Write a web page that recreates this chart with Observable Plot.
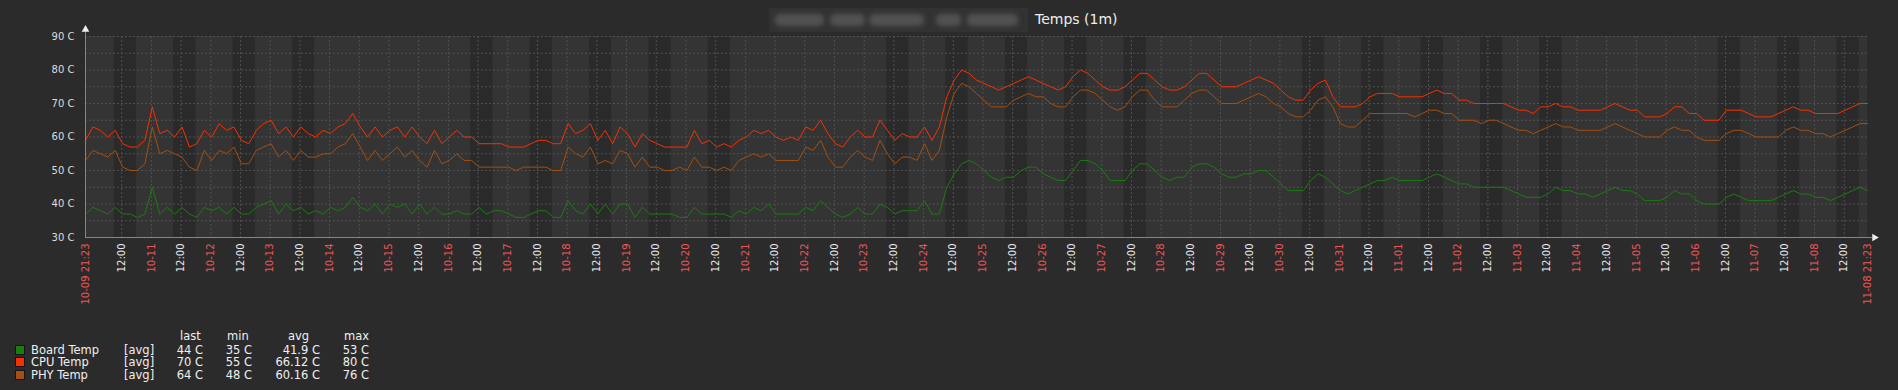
<!DOCTYPE html>
<html><head><meta charset="utf-8">
<script src="https://cdn.jsdelivr.net/npm/d3@7"></script>
<script src="https://cdn.jsdelivr.net/npm/@observablehq/plot@0.6"></script>
<style>
html,body{margin:0;padding:0;background:#2b2b2b;}
body{width:1898px;height:390px;overflow:hidden;font-family:"DejaVu Sans",sans-serif;}
#title{position:relative;height:27px;}
#legend{position:relative;height:76px;color:#f0f0f0;font-size:11.5px;}
.abs{position:absolute;white-space:nowrap;line-height:14px;}
.blob{position:absolute;top:6px;height:12px;background:#525252;border-radius:5px;filter:blur(2.5px);}
</style></head><body>
<div id="title">
  <div id="blur" style="position:absolute;left:769px;top:8px;width:259px;height:24px;background:#323232;overflow:hidden"></div>
  <div class="abs" id="ttl" style="left:1035px;top:11px;font-size:14px;line-height:16px;color:#eeeeee"></div>
</div>
<div id="chart"></div>
<div id="legend"></div>
<script>
// ---------- data (3-hour samples from 2017-10-09 21:23 to 2017-11-08 21:23) ----------
const titleText = "Temps (1m)";
const seriesNames = ["Board Temp", "CPU Temp", "PHY Temp"];
const seriesColors = ["#1A7C11", "#F63100", "#A54F10"];
const legendHeader = ["last", "min", "avg", "max"];
const legendLast = ["44 C", "70 C", "64 C"];
const legendMin = ["35 C", "55 C", "48 C"];
const legendAvg = ["41.9 C", "66.12 C", "60.16 C"];
const legendMax = ["53 C", "80 C", "76 C"];
const yTicks = [30, 40, 50, 60, 70, 80, 90];

const cpu = [
59,63,62,60,62,58,57,57,59,69,61,62,60,63,57,58,62,60,64,62,63,59,58,62,64,65,61,63,60,63,61,60,62,61,63,64,67,63,60,63,60,62,63,60,63,60,58,62,58,60,62,60,60,58,
58,58,58,57,57,57,58,59,59,58,58,64,61,62,64,59,62,58,63,61,57,61,59,58,57,57,57,57,62,58,59,57,58,57,59,60,62,61,62,60,59,60,59,63,62,65,61,58,57,60,62,60,60,
65,62,59,61,60,60,63,59,63,72,77,80,79,77,76,75,74,75,76,77,78,77,76,75,74,75,78,80,79,77,75,74,74,75,77,79,79,77,75,74,74,75,77,79,79,77,75,75,75,76,77,
78,77,76,74,72,71,71,74,76,77,72,69,69,69,70,72,73,73,73,72,72,72,72,73,74,73,73,71,71,70,70,70,70,70,69,68,68,67,69,69,70,69,69,68,68,68,68,69,70,69,68,68,66,66,66,67,69,69,67,67,65,65,65,68,68,68,67,66,66,66,67,68,69,68,68,67,67,67,67,68,69,70,70
];
const phy = [
53,56,55,54,56,51,50,50,52,63,55,56,55,54,51,50,56,53,56,55,57,52,52,56,57,58,54,56,53,56,54,54,55,55,57,58,61,57,53,56,53,55,57,54,56,53,51,56,52,53,55,53,53,51,
51,51,51,51,50,51,51,51,51,50,50,57,55,54,57,52,53,52,56,55,51,54,51,51,50,50,51,50,54,51,51,50,51,50,53,54,55,54,55,53,53,53,53,57,56,59,54,51,51,54,56,54,53,
59,55,52,54,54,53,58,53,56,66,73,76,75,73,71,69,69,69,71,72,73,72,72,70,69,69,72,74,74,73,71,69,68,69,72,74,74,71,69,69,69,71,73,74,74,72,70,70,70,71,72,
73,72,70,69,67,66,66,68,71,72,69,64,63,63,65,67,67,67,67,67,67,66,67,68,68,67,67,65,65,65,64,65,65,64,63,62,62,61,62,63,64,63,63,62,62,62,62,63,64,63,62,61,60,60,60,62,63,62,62,60,59,59,59,61,62,62,61,60,60,60,60,62,63,62,62,61,61,60,61,62,63,64,64
];
const board = [
37,39,38,37,39,37,37,36,37,45,37,39,37,39,37,36,39,38,39,37,39,37,37,39,40,41,37,40,38,39,37,38,37,39,38,39,42,39,38,40,37,40,39,40,37,40,37,39,37,37,38,37,37,39,
37,38,38,37,36,36,37,38,38,36,36,41,38,37,40,37,40,37,40,40,36,39,37,37,37,37,36,36,39,37,37,37,37,36,38,37,39,38,40,37,37,37,37,39,38,41,39,37,36,37,39,37,37,
40,39,37,38,38,38,41,37,37,45,49,52,53,52,50,48,47,48,48,50,51,51,49,48,47,47,50,53,53,52,50,47,47,47,50,52,52,50,48,47,48,48,51,52,52,51,49,48,48,49,49,
50,50,48,46,44,44,44,47,49,48,46,44,43,44,45,46,47,47,48,47,47,47,47,48,49,48,47,46,46,45,45,45,45,45,44,43,42,42,42,43,45,44,44,43,43,42,43,44,45,44,44,43,41,41,41,42,44,43,43,41,40,40,40,42,43,42,41,41,41,41,42,43,44,43,43,42,42,41,42,43,44,45,44
];

// ---------- time helpers ----------
const HOUR = 3600 * 1000;
const start = new Date(Date.UTC(2017, 9, 9, 21, 23));
const times = cpu.map((_, i) => new Date(+start + i * 3 * HOUR));
const end = times[times.length - 1];
const rows = times.map((t, i) => ({t, board: board[i], cpu: cpu[i], phy: phy[i]}));

const pad = n => String(n).padStart(2, "0");
const md = d => `${pad(d.getUTCMonth() + 1)}-${pad(d.getUTCDate())}`;
const hm = d => `${pad(d.getUTCHours())}:${pad(d.getUTCMinutes())}`;

const day0 = Date.UTC(2017, 9, 10);
const dayTicks = [], noonTicks = [], work = [];
for (let k = 0; k < 31; k++) {
  const mid = new Date(day0 + k * 24 * HOUR);
  const noon = new Date(+mid + 12 * HOUR);
  if (k >= 1 && mid < end) dayTicks.push(mid);
  if (noon < end) noonTicks.push(noon);
  const wd = mid.getUTCDay();
  if (wd >= 1 && wd <= 5 && mid < end) work.push({a: new Date(+mid + 9 * HOUR), b: new Date(+mid + 18 * HOUR)});
}
const redTicks = [start, ...dayTicks, end];
const gridTimes = [...dayTicks, ...noonTicks];
const arrowX = new Date(+end + 2.8 * HOUR);

const axisCol = "#858585";
const gridCol = "#505050";

const chart = Plot.plot({
  width: 1898, height: 287,
  marginTop: 9, marginBottom: 77, marginLeft: 85, marginRight: 31,
  x: {type: "utc", domain: [start, end]},
  y: {domain: [30, 90]},
  style: {background: "transparent", fontFamily: "DejaVu Sans", fontSize: "10px", overflow: "visible", color: "#dddddd"},
  marks: [
    Plot.rect([0], {x1: () => start, x2: () => end, y1: () => 30, y2: () => 90, fill: "#343434"}),
    Plot.rect(work, {x1: "a", x2: "b", y1: () => 30, y2: () => 90, fill: "#2a2a2a"}),
    Plot.ruleY(d3.range(35, 91, 5), {stroke: gridCol, strokeDasharray: "2,2"}),
    Plot.ruleX(gridTimes, {stroke: gridCol, strokeDasharray: "2,2"}),
    Plot.line(rows, {x: "t", y: "board", stroke: seriesColors[0], strokeWidth: 1}),
    Plot.line(rows, {x: "t", y: "cpu", stroke: seriesColors[1], strokeWidth: 1}),
    Plot.line(rows, {x: "t", y: "phy", stroke: seriesColors[2], strokeWidth: 1}),
    Plot.ruleX([start], {y1: () => 30, y2: () => 91.6, stroke: axisCol}),
    Plot.ruleY([30], {x1: () => start, x2: () => new Date(+end + 2 * HOUR), stroke: axisCol}),
    Plot.dot([start], {x: d => d, y: () => 92.1, symbol: "triangle", r: 2.8, fill: "#eeeeee", stroke: "none"}),
    Plot.dot([arrowX], {x: d => d, y: () => 30, symbol: "triangle", rotate: 90, r: 2.8, fill: "#eeeeee", stroke: "none"}),
    Plot.axisY({ticks: yTicks, tickFormat: d => `${d} C`, tickSize: 0, tickPadding: 11, fill: "#dddddd", label: null}),
    Plot.axisX({ticks: redTicks, tickFormat: d => (+d === +start || +d === +end) ? `${md(d)} ${hm(d)}` : md(d),
      tickRotate: -90, tickSize: 0, tickPadding: 6, fill: "#f05555", label: null}),
    Plot.axisX({ticks: noonTicks, tickFormat: d => hm(d), tickRotate: -90, tickSize: 0, tickPadding: 6, fill: "#eaeaea", label: null})
  ]
});
document.getElementById("chart").appendChild(chart);

// ---------- title ----------
document.getElementById("ttl").textContent = titleText;
const blur = document.getElementById("blur");
[[6, 49], [61, 35], [100, 55], [167, 25], [198, 51]].forEach(([l, w]) => {
  const b = document.createElement("div");
  b.className = "blob"; b.style.left = l + "px"; b.style.width = w + "px";
  blur.appendChild(b);
});

// ---------- legend ----------
const lg = document.getElementById("legend");
function addText(txt, left, cy, opts = {}) {
  const e = document.createElement("div");
  e.className = "abs"; e.textContent = txt;
  e.style.top = (cy - 7) + "px";
  if (opts.right != null) { e.style.left = (opts.right - 80) + "px"; e.style.width = "80px"; e.style.textAlign = "right"; }
  else e.style.left = left + "px";
  lg.appendChild(e);
}
const headerLeft = [180, 227, 288, 344];
legendHeader.forEach((h, j) => addText(h, headerLeft[j], 22));
const rowY = [35.5, 48, 60.5];
const colRight = [203, 252, 320, 369];
seriesNames.forEach((n, i) => {
  const sq = document.createElement("div");
  sq.style.cssText = `position:absolute;left:15px;top:${rowY[i] - 5}px;width:10px;height:10px;box-sizing:border-box;border:1px solid #151515;background:${seriesColors[i]}`;
  lg.appendChild(sq);
  addText(n, 31, rowY[i]);
  addText("[avg]", 124, rowY[i]);
  [legendLast, legendMin, legendAvg, legendMax].forEach((arr, j) => addText(arr[i], 0, rowY[i], {right: colRight[j]}));
});
</script>
</body></html>
